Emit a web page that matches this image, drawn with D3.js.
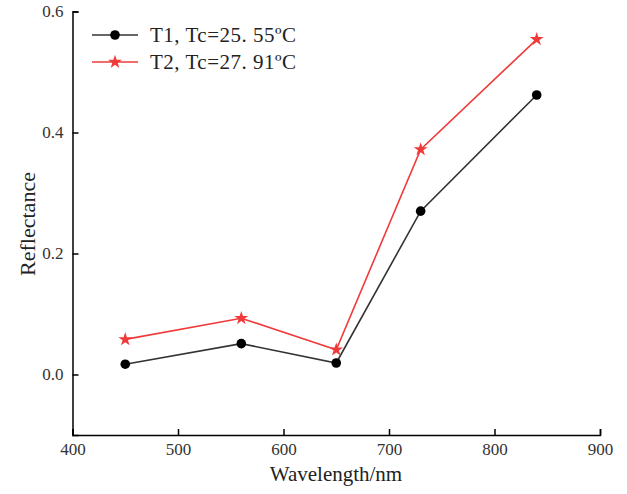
<!DOCTYPE html>
<html><head><meta charset="utf-8">
<script src="https://cdn.jsdelivr.net/npm/d3@7"></script>
<style>body{margin:0;background:#fff}</style>
</head><body><svg id="c" width="627" height="494"></svg>
<script>
const wavelengths = [450, 560, 650, 730, 840];
const t1 = [0.017, 0.051, 0.019, 0.270, 0.462];
const t2 = [0.058, 0.093, 0.041, 0.372, 0.554];
const seriesNames = ["T1, Tc=25. 55ºC", "T2, Tc=27. 91ºC"];
const xTicks = [400, 500, 600, 700, 800, 900];
const yTicks = [0.0, 0.2, 0.4, 0.6];

const svg = d3.select("#c");
const L = 72.5, R = 600, T = 11.5, B = 435;
const x = d3.scaleLinear().domain([400, 900]).range([L, R]);
const y = d3.scaleLinear().domain([-0.1, 0.6]).range([B, T]);
const font = "'Liberation Serif','Times New Roman',serif";

const xa = svg.append("g").attr("transform", `translate(0,${B})`)
  .call(d3.axisBottom(x).tickValues(xTicks).tickSizeInner(-6).tickSizeOuter(-6).tickPadding(8).tickFormat(d3.format("d")));
const ya = svg.append("g").attr("transform", `translate(${L},0)`)
  .call(d3.axisLeft(y).tickValues(yTicks).tickSizeInner(-6).tickSizeOuter(-6).tickPadding(9).tickFormat(d3.format(".1f")));
[xa, ya].forEach(a => {
  a.selectAll("path,line").attr("stroke", "#000").attr("stroke-width", 1.5);
  a.selectAll("text").attr("font-family", font).attr("font-size", 17).attr("fill", "#333");
});

svg.append("text").attr("x", 336).attr("y", 481).attr("text-anchor", "middle")
  .attr("font-family", font).attr("font-size", 21).attr("fill", "#222").text("Wavelength/nm");
svg.append("text").attr("transform", `translate(35,224) rotate(-90)`).attr("text-anchor", "middle")
  .attr("font-family", font).attr("font-size", 22).attr("fill", "#222").text("Reflectance");

const line = d3.line().x((d, i) => x(wavelengths[i])).y(d => y(d));
const colors = ["#333333", "#f03a3a"];
const markColors = ["#000000", "#f03a3a"];
const star = d3.symbol().type(d3.symbolStar).size(60);

svg.append("path").datum(t1).attr("d", line).attr("fill", "none").attr("stroke", colors[0]).attr("stroke-width", 1.6);
svg.append("path").datum(t2).attr("d", line).attr("fill", "none").attr("stroke", colors[1]).attr("stroke-width", 1.6);
svg.selectAll(".m1").data(t1).enter().append("circle")
  .attr("cx", (d, i) => x(wavelengths[i])).attr("cy", d => y(d)).attr("r", 4.8).attr("fill", markColors[0]);
svg.selectAll(".m2").data(t2).enter().append("path")
  .attr("d", star).attr("transform", (d, i) => `translate(${x(wavelengths[i])},${y(d)})`).attr("fill", markColors[1]);

// legend
const lg = svg.append("g");
[0, 1].forEach(i => {
  const yy = 35 + i * 27;
  lg.append("line").attr("x1", 92).attr("x2", 138).attr("y1", yy).attr("y2", yy)
    .attr("stroke", colors[i]).attr("stroke-width", 1.6);
  if (i === 0) lg.append("circle").attr("cx", 115).attr("cy", yy).attr("r", 4.8).attr("fill", markColors[0]);
  else lg.append("path").attr("d", star).attr("transform", `translate(115,${yy})`).attr("fill", markColors[1]);
  lg.append("text").attr("x", 150).attr("y", yy + 7).attr("font-family", font).attr("font-size", 21)
    .attr("letter-spacing", 0.5).attr("fill", "#222").text(seriesNames[i]);
});
</script></body></html>
